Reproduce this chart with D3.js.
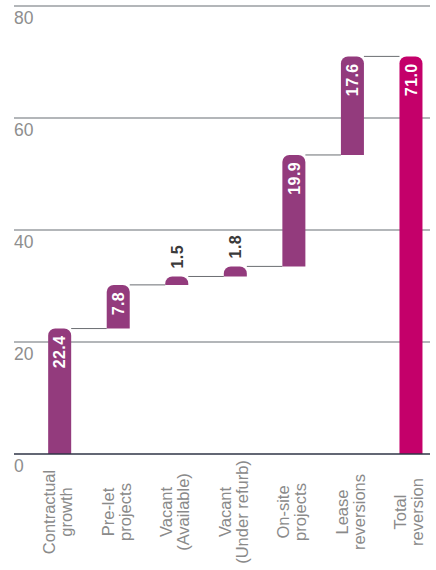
<!DOCTYPE html>
<html>
<head>
<meta charset="utf-8">
<script src="https://cdn.jsdelivr.net/npm/d3@7"></script>
<style>
  html, body { margin: 0; padding: 0; background: #fff; }
  svg { display: block; }
</style>
</head>
<body>
<svg id="chart" width="436" height="570"></svg>
<script>
// ---- data ----
const categories = [
  ["Contractual", "growth"],
  ["Pre-let", "projects"],
  ["Vacant", "(Available)"],
  ["Vacant", "(Under refurb)"],
  ["On-site", "projects"],
  ["Lease", "reversions"],
  ["Total", "reversion"]
];
const values = [22.4, 7.8, 1.5, 1.8, 19.9, 17.6, 71.0];
const isTotal = [false, false, false, false, false, false, true];
const yTicks = [0, 20, 40, 60, 80];

// ---- layout ----
const svg = d3.select("#chart");
const font = "'Liberation Sans', Arial, Helvetica, sans-serif";
const keys = categories.map((c, i) => i);

const x = d3.scaleBand().domain(keys).range([30.4, 440.25])
  .paddingInner(0.607).paddingOuter(0.3035);
const y = d3.scaleLinear().domain([0, 80]).range([454, 6]);
const gridX0 = 14, gridX1 = 430;

// compute waterfall bases
let run = 0;
const bars = values.map((v, i) => {
  let base, top;
  if (isTotal[i]) { base = 0; top = v; }
  else { base = run; top = run + v; run = top; }
  return { i, v, base, top, total: isTotal[i] };
});

// gridlines
const grid = svg.append("g");
grid.selectAll("line").data(yTicks.filter(t => t > 0)).join("line")
  .attr("x1", gridX0).attr("x2", gridX1)
  .attr("y1", d => y(d)).attr("y2", d => y(d))
  .attr("stroke", "#9a9ea2").attr("stroke-width", 1.5);

// tick labels
svg.append("g").selectAll("text").data(yTicks).join("text")
  .attr("x", gridX0).attr("y", d => y(d) + 18)
  .attr("font-family", font).attr("font-size", 17.5)
  .attr("fill", "#8e8e8e")
  .text(d => d);

// connectors
const conn = svg.append("g");
for (let i = 0; i < bars.length - 1; i++) {
  const lvl = bars[i].top;
  conn.append("line")
    .attr("x1", x(i) + x.bandwidth()).attr("x2", x(i + 1))
    .attr("y1", y(lvl)).attr("y2", y(lvl))
    .attr("stroke", "#6b6e72").attr("stroke-width", 1);
}

// bars with rounded tops
function barPath(x0, w, yTop, yBot) {
  const h = yBot - yTop;
  const r = Math.min(7, h, w / 2);
  return `M${x0},${yBot} L${x0},${yTop + r} A${r},${r} 0 0 1 ${x0 + r},${yTop}` +
         ` L${x0 + w - r},${yTop} A${r},${r} 0 0 1 ${x0 + w},${yTop + r} L${x0 + w},${yBot} Z`;
}
svg.append("g").selectAll("path").data(bars).join("path")
  .attr("d", d => barPath(x(d.i), x.bandwidth(), y(d.top), y(d.base)))
  .attr("fill", d => d.total ? "#c4006a" : "#933b7d");

// baseline
svg.append("line")
  .attr("x1", gridX0).attr("x2", gridX1)
  .attr("y1", y(0)).attr("y2", y(0))
  .attr("stroke", "#2f3446").attr("stroke-width", 1.5);

// value labels (rotated)
svg.append("g").selectAll("text").data(bars).join("text")
  .attr("transform", d => {
    const cx = x(d.i) + x.bandwidth() / 2;
    const inside = (y(d.base) - y(d.top)) > 40;
    const ty = inside ? y(d.top) + 7 : y(d.top) - 8;
    return `translate(${cx},${ty}) rotate(-90)`;
  })
  .attr("text-anchor", d => (y(d.base) - y(d.top)) > 40 ? "end" : "start")
  .attr("dy", "0.36em")
  .attr("font-family", font).attr("font-size", 16).attr("font-weight", "bold")
  .attr("letter-spacing", 0.4)
  .attr("fill", d => (y(d.base) - y(d.top)) > 40 ? "#ffffff" : "#3a3a3a")
  .text(d => d.v.toFixed(1));

// category labels
const cat = svg.append("g").selectAll("text").data(categories).join("text")
  .attr("transform", (d, i) => `translate(${x(i) + x.bandwidth() / 2},512) rotate(-90)`)
  .attr("text-anchor", "middle")
  .attr("font-family", font).attr("font-size", 16.5)
  .attr("fill", "#8a8a8a");
cat.selectAll("tspan").data(d => d).join("tspan")
  .attr("x", 0)
  .attr("y", (d, j) => j === 0 ? -4.5 : 12.5)
  .text(d => d);
</script>
</body>
</html>
